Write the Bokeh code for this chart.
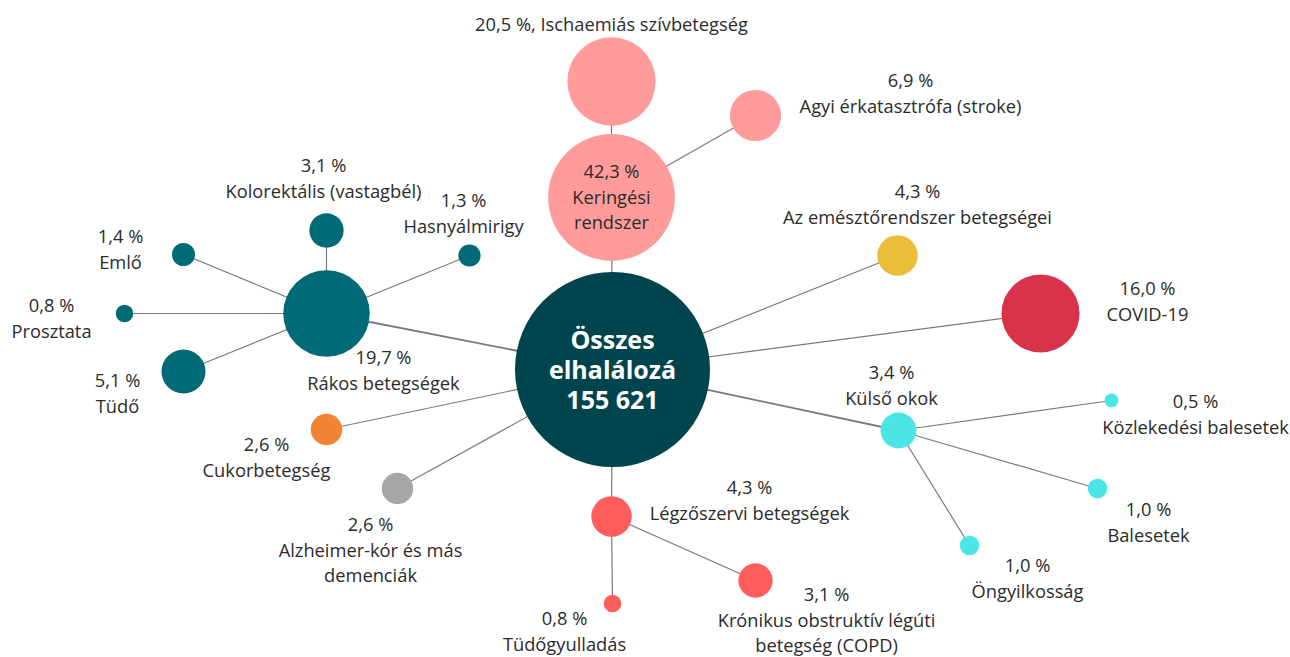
import math
from bokeh.plotting import figure
from bokeh.models import Range1d, ColumnDataSource
from bokeh.core.properties import value
from bokeh.embed import file_html
from bokeh.resources import INLINE

# ---- data ----
node_names = [
    "Összes elhalálozá", "Keringési rendszer", "Ischaemiás szívbetegség",
    "Agyi érkatasztrófa (stroke)", "Rákos betegségek", "Kolorektális (vastagbél)",
    "Hasnyálmirigy", "Emlő", "Prosztata", "Tüdő", "Az emésztőrendszer betegségei",
    "COVID-19", "Külső okok", "Közlekedési balesetek", "Balesetek", "Öngyilkosság",
    "Légzőszervi betegségek", "Krónikus obstruktív légúti betegség (COPD)",
    "Tüdőgyulladás", "Cukorbetegség", "Alzheimer-kór és más demenciák",
]
node_values = [100.0, 42.3, 20.5, 6.9, 19.7, 3.1, 1.3, 1.4, 0.8, 5.1, 4.3,
               16.0, 3.4, 0.5, 1.0, 1.0, 4.3, 3.1, 0.8, 2.6, 2.6]
node_parent = [-1, 0, 1, 1, 0, 4, 4, 4, 4, 4, 0, 0, 0, 12, 12, 12, 0, 16, 16, 0, 0]
total_deaths = "155 621"

group_colors = {
    "total": "#00444e", "circ": "#ff9b9b", "cancer": "#006a77", "digest": "#ecbd3b",
    "covid": "#d9334b", "external": "#4ce5e6", "resp": "#ff5c5c",
    "diabetes": "#f38434", "dementia": "#a6a6a6",
}
node_group = ["total", "circ", "circ", "circ", "cancer", "cancer", "cancer", "cancer",
              "cancer", "cancer", "digest", "covid", "external", "external", "external",
              "external", "resp", "resp", "resp", "diabetes", "dementia"]

# ---- layout (screen-like coordinates, y downward) ----
node_x = [612, 611, 611, 755, 326, 326, 469, 183, 124, 183, 897, 1040, 898, 1111, 1097,
          969, 611, 755, 612, 326, 397]
node_y = [369, 197, 81, 115, 313, 230, 255, 254, 313, 371, 255, 313, 430, 400, 488,
          545, 516, 580, 603, 429, 488]

# label text lines (percent line generated from value) and first-line positions
label_lines = [
    None,
    ["Keringési", "rendszer"],
    None,
    ["Agyi érkatasztrófa (stroke)"],
    ["Rákos betegségek"],
    ["Kolorektális (vastagbél)"],
    ["Hasnyálmirigy"],
    ["Emlő"],
    ["Prosztata"],
    ["Tüdő"],
    ["Az emésztőrendszer betegségei"],
    ["COVID-19"],
    ["Külső okok"],
    ["Közlekedési balesetek"],
    ["Balesetek"],
    ["Öngyilkosság"],
    ["Légzőszervi betegségek"],
    ["Krónikus obstruktív légúti", "betegség (COPD)"],
    ["Tüdőgyulladás"],
    ["Cukorbetegség"],
    ["Alzheimer-kór és más", "demenciák"],
]
label_x = [612, 611, 611, 910, 383, 323, 463, 120, 51, 117, 917, 1147, 891, 1195, 1148,
           1027, 749, 826, 564, 266, 370]
label_y = [338, 170, 23, 79, 356, 164, 199, 235, 304, 379, 190, 287, 371, 400, 508,
           564, 486, 593, 617, 443, 523]


def pct(v):
    return f"{v:.1f}".replace(".", ",") + " %"


W, H = 1290, 657
p = figure(width=W, height=H, output_backend="svg", toolbar_location=None,
           x_range=Range1d(0, W), y_range=Range1d(H, 0),
           min_border=0, outline_line_color=None, background_fill_color="white",
           border_fill_color="white")
p.axis.visible = False
p.grid.visible = False

# edges
ex0, ey0, ex1, ey1, ew = [], [], [], [], []
for i, par in enumerate(node_parent):
    if par < 0:
        continue
    ex0.append(node_x[par]); ey0.append(node_y[par])
    ex1.append(node_x[i]); ey1.append(node_y[i])
    ew.append(1.8 if node_names[i] in ("Rákos betegségek", "Külső okok") else 1.2)
p.segment(x0="x0", y0="y0", x1="x1", y1="y1", line_width="w", line_color="#7a7a7a",
          source=ColumnDataSource(dict(x0=ex0, y0=ey0, x1=ex1, y1=ey1, w=ew)))

# nodes
sizes = [2 * 97.5 * math.sqrt(v / 100.0) for v in node_values]
cols = [group_colors[g] for g in node_group]
p.scatter(x=node_x, y=node_y, size=sizes, fill_color=cols, line_color=None,
          marker="circle")

# labels
tx, ty, tt = [], [], []
for i, lines in enumerate(label_lines):
    if i == 0:
        continue
    if lines is None:
        allines = [pct(node_values[i]) + ", " + node_names[i]]
    else:
        allines = [pct(node_values[i])] + lines
    for k, s in enumerate(allines):
        tx.append(label_x[i]); ty.append(label_y[i] + 25.5 * k); tt.append(s)
p.text(x="x", y="y", text="t", source=ColumnDataSource(dict(x=tx, y=ty, t=tt)),
       text_font=value("Open Sans"), text_font_size="18.3px", text_color="#2b2b2b",
       text_align="center", text_baseline="middle")

# center label
ctext = ["Összes", "elhalálozá", total_deaths]
p.text(x=[label_x[0]] * 3, y=[label_y[0] + 30 * k for k in range(3)], text=ctext,
       text_font=value("Open Sans"), text_font_style="bold", text_font_size="25px",
       text_color="white", text_align="center", text_baseline="middle")

open("out.html", "w").write(file_html(p, INLINE))
